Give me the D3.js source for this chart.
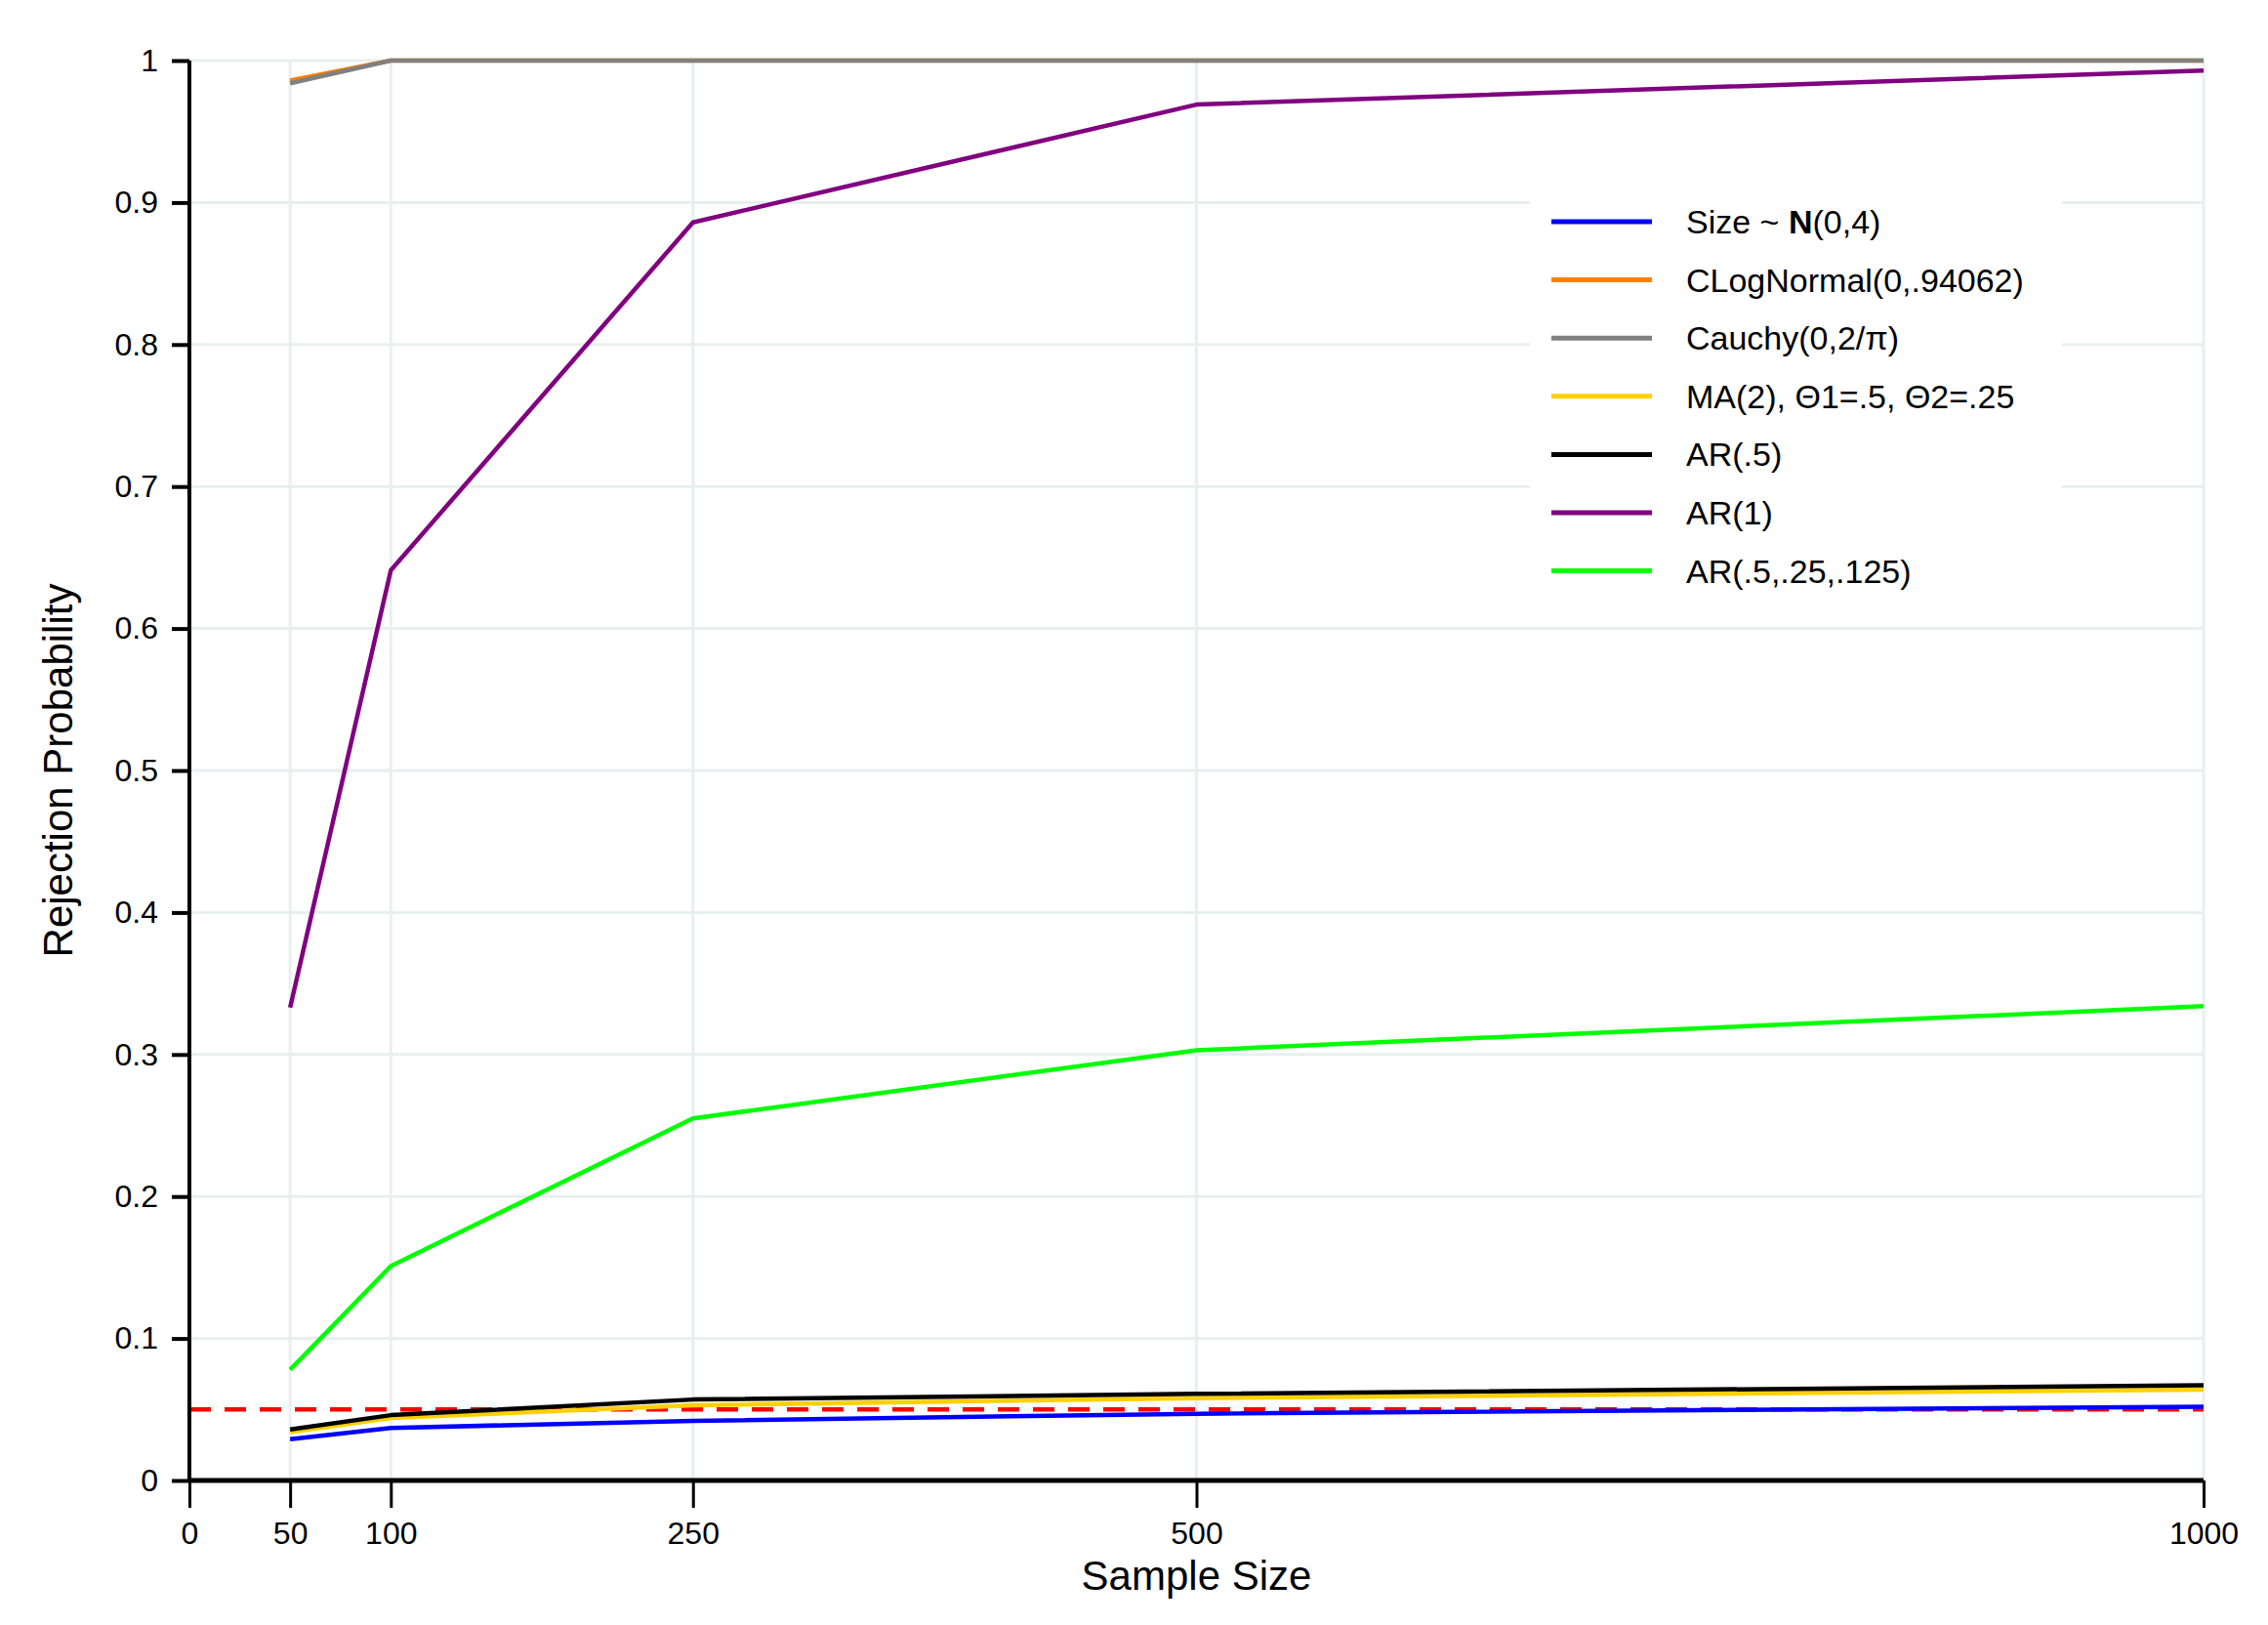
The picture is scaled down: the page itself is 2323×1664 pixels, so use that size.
<!DOCTYPE html><html><head><meta charset="utf-8">
<script src="https://cdn.jsdelivr.net/npm/d3@7"></script>
<style>body{margin:0;background:#fff}svg{font-family:"Liberation Sans",Arial,sans-serif}</style></head><body>
<svg id="c" width="2323" height="1664"></svg>
<script>
const sampleSizes=[50,100,250,500,1000];
const xTicks=[0,50,100,250,500,1000];
const yTicks=[0,0.1,0.2,0.3,0.4,0.5,0.6,0.7,0.8,0.9,1];
const seriesNames=["Size ~ N(0,4)","CLogNormal(0,.94062)","Cauchy(0,2/π)","MA(2), Θ1=.5, Θ2=.25","AR(.5)","AR(1)","AR(.5,.25,.125)"];
const seriesColors=["#0000ff","#ff7f00","#808080","#ffd000","#000000","#800080","#00ff00"];
const sizeN=[0.029,0.037,0.042,0.047,0.052];
const clog=[0.986,1,1,1,1];
const cauchy=[0.984,1,1,1,1];
const ma2=[0.034,0.044,0.053,0.058,0.064];
const ar05=[0.036,0.046,0.057,0.061,0.067];
const ar1=[0.333,0.641,0.886,0.969,0.993];
const ar3=[0.078,0.151,0.255,0.303,0.334];
const refLevel=0.05;
const seriesVals=[sizeN,clog,cauchy,ma2,ar05,ar1,ar3];
const drawOrder=[0,3,4,6,5,1,2];

const svg=d3.select("#c");
const x=d3.scaleLinear().domain([0,1000]).range([194,2257]);
const y=d3.scaleLinear().domain([0,1]).range([1516,62]);

// grid
svg.append("g").selectAll("line").data(yTicks.filter(d=>d>0)).join("line")
 .attr("x1",x(0)).attr("x2",x(1000)).attr("y1",d=>y(d)).attr("y2",d=>y(d))
 .attr("stroke","#e8eff0").attr("stroke-width",3);
svg.append("g").selectAll("line").data(sampleSizes).join("line")
 .attr("x1",d=>x(d)).attr("x2",d=>x(d)).attr("y1",y(0)).attr("y2",y(1))
 .attr("stroke","#e8eff0").attr("stroke-width",3);

// legend background
const lg=svg.append("g");
lg.append("rect").attr("x",1567).attr("y",195).attr("width",545).attr("height",425).attr("fill","#fff");

// reference line
svg.append("line").attr("x1",x(0)).attr("x2",x(1000)).attr("y1",y(refLevel)).attr("y2",y(refLevel))
 .attr("stroke","#ff0000").attr("stroke-width",4.5).attr("stroke-dasharray","22,14");

const line=d3.line().x((d,i)=>x(sampleSizes[i])).y(d=>y(d));
drawOrder.forEach(k=>{
 svg.append("path").datum(seriesVals[k]).attr("d",line).attr("fill","none")
  .attr("stroke",seriesColors[k]).attr("stroke-width",4.5).attr("stroke-linejoin","round");
});

// axes
const xa=svg.append("g").attr("transform",`translate(0,${y(0)})`)
 .call(d3.axisBottom(x).tickValues(xTicks).tickFormat(d3.format("d")).tickSize(28).tickPadding(14));
xa.select(".domain").attr("stroke-width",5).attr("d",`M${x(0)},0H${x(1000)}`);
xa.selectAll(".tick line").attr("stroke-width",3);
xa.selectAll("text").attr("font-size",32).attr("fill","#000");
const ya=svg.append("g").attr("transform",`translate(${x(0)},0)`)
 .call(d3.axisLeft(y).tickValues(yTicks).tickFormat(d=>d===0||d===1?d:d3.format(".1f")(d)).tickSize(18).tickPadding(14));
ya.select(".domain").attr("stroke-width",4).attr("d",`M0,${y(0)}V${y(1)}`);
ya.selectAll(".tick line").attr("stroke-width",4);
ya.selectAll("text").attr("font-size",32).attr("fill","#000");

svg.append("text").attr("x",x(500)).attr("y",1628).attr("text-anchor","middle").attr("font-size",42).text("Sample Size");
svg.append("text").attr("transform",`translate(74,${y(0.5)}) rotate(-90)`).attr("text-anchor","middle").attr("font-size",42).text("Rejection Probability");

// legend
seriesNames.forEach((n,i)=>{
 const yy=227+i*59.6;
 lg.append("line").attr("x1",1589).attr("x2",1692).attr("y1",yy).attr("y2",yy).attr("stroke",seriesColors[i]).attr("stroke-width",5);
 const t=lg.append("text").attr("x",1727).attr("y",yy+12).attr("font-size",34);
 if(i===0){t.append("tspan").text("Size ~ ");t.append("tspan").attr("font-weight","bold").text("N");t.append("tspan").text("(0,4)");}
 else t.text(n);
});
</script></body></html>
